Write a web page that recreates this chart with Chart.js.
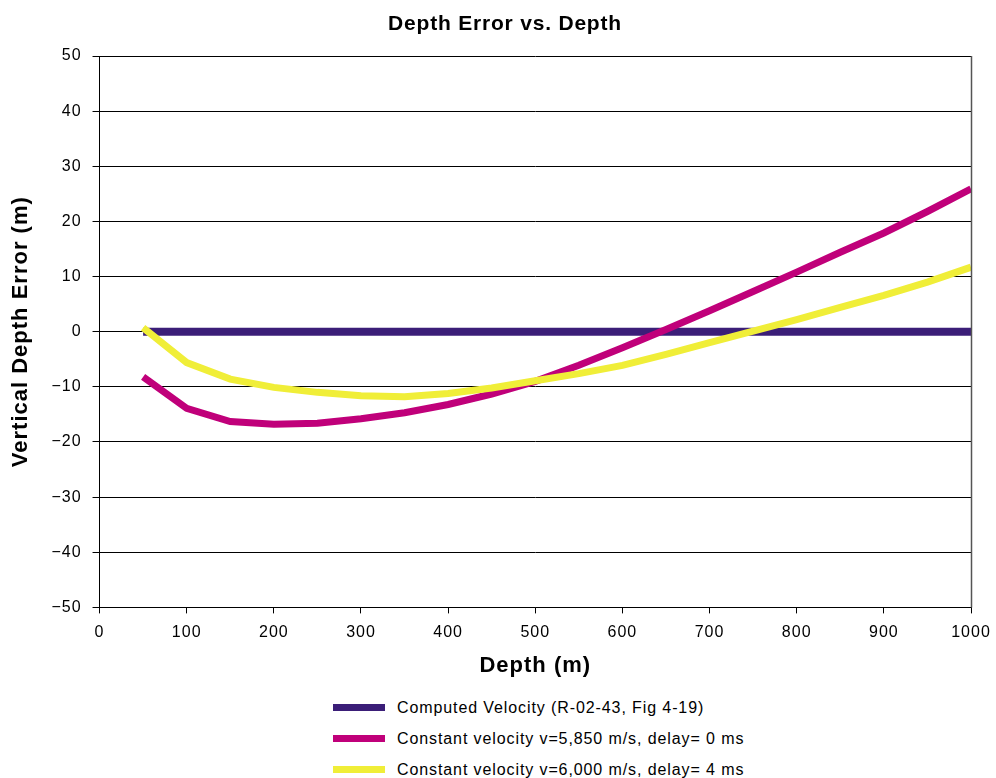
<!DOCTYPE html>
<html>
<head>
<meta charset="utf-8">
<script src="https://cdn.jsdelivr.net/npm/chart.js@4.4.1/dist/chart.umd.min.js"></script>
<style>
  html, body { margin: 0; padding: 0; background: #fff; }
  #wrap { position: relative; width: 996px; height: 778px; font-family: "Liberation Sans", Arial, sans-serif; }
  #chartBox { position: absolute; left: 0; top: 0; width: 996px; height: 690px; }
  #title { position: absolute; left: 255px; width: 500px; top: 10px; line-height: 25px; text-align: center;
           font-size: 21px; font-weight: bold; letter-spacing: 0.8px; color: #000; }
  #legend { position: absolute; left: 333px; top: 692px; }
  .item { display: flex; align-items: center; height: 31px; font-size: 16px; letter-spacing: 0.9px; color: #000; }
  .swatch { width: 52px; height: 7px; margin-right: 12px; }
</style>
</head>
<body>
<div id="wrap">
  <div id="chartBox"><canvas id="c"></canvas></div>
  <div id="title"></div>
  <div id="legend"></div>
</div>
<script>
const depths = [50,100,150,200,250,300,350,400,450,500,550,600,650,700,750,800,850,900,950,1000];
const computedVelocity = [0,0,0,0,0,0,0,0,0,0,0,0,0,0,0,0,0,0,0,0];
const constV5850 = [-8.2,-13.9,-16.3,-16.8,-16.6,-15.8,-14.7,-13.2,-11.3,-9.0,-6.1,-2.9,0.4,3.8,7.3,10.8,14.4,17.9,21.8,25.9];
const constV6000 = [0.7,-5.6,-8.6,-10.1,-11.0,-11.6,-11.8,-11.2,-10.2,-8.9,-7.6,-6.1,-4.1,-2.0,0.1,2.2,4.4,6.6,9.0,11.7];
const seriesNames = [
  "Computed Velocity (R-02-43, Fig 4-19)",
  "Constant velocity v=5,850 m/s, delay= 0 ms",
  "Constant velocity v=6,000 m/s, delay= 4 ms"
];
const chartTitle = "Depth Error vs. Depth";
const xTitle = "Depth (m)";
const yTitle = "Vertical Depth Error (m)";

const toPts = arr => arr.map((v, i) => ({x: depths[i], y: v}));
const FONT = "'Liberation Sans', Arial, sans-serif";

const spacing = {
  id: 'spacing',
  beforeUpdate(chart) { chart.ctx.letterSpacing = '1px'; },
  beforeLayout(chart) { chart.ctx.letterSpacing = '1px'; },
  beforeDraw(chart) { chart.ctx.letterSpacing = '1px'; }
};

const rightBorder = {
  id: 'rightBorder',
  afterDatasetsDraw(chart) {
    const {ctx, chartArea} = chart;
    ctx.save();
    ctx.strokeStyle = '#555';
    ctx.lineWidth = 1.5;
    ctx.beginPath();
    ctx.moveTo(chartArea.right + 0.5, chartArea.top);
    ctx.lineTo(chartArea.right + 0.5, chartArea.bottom);
    ctx.stroke();
    ctx.restore();
  }
};

document.getElementById('title').textContent = chartTitle;

const chart = new Chart(document.getElementById('c'), {
  type: 'line',
  data: {
    datasets: [
      { label: seriesNames[0], data: toPts(computedVelocity), borderColor: '#3B1E78', backgroundColor: '#3B1E78', borderWidth: 8, pointRadius: 0, order: 3 },
      { label: seriesNames[1], data: toPts(constV5850), borderColor: '#C0007A', backgroundColor: '#C0007A', borderWidth: 7, pointRadius: 0, order: 2 },
      { label: seriesNames[2], data: toPts(constV6000), borderColor: '#F0EE38', backgroundColor: '#F0EE38', borderWidth: 7, pointRadius: 0, order: 1 }
    ]
  },
  options: {
    responsive: true,
    maintainAspectRatio: false,
    animation: false,
    layout: { padding: { left: 5, right: 25, top: 56, bottom: 11 } },
    plugins: {
      legend: { display: false },
      tooltip: { enabled: false },
      title: { display: false }
    },
    scales: {
      x: {
        type: 'linear', min: 0, max: 1000,
        afterFit: s => { s.paddingRight = 0; s.paddingLeft = 0; },
        ticks: { stepSize: 100, color: '#000', font: { family: FONT, size: 16 }, padding: 10, maxRotation: 0,
          callback: v => String(v) },
        grid: { drawOnChartArea: false, color: '#000', tickLength: 6, tickColor: '#000' },
        border: { color: '#000', width: 1 },
        title: { display: true, text: xTitle, color: '#000', font: { family: FONT, size: 22, weight: 'bold' }, padding: { top: 0, bottom: 0 } }
      },
      y: {
        min: -50, max: 50,
        ticks: { stepSize: 10, color: '#000', font: { family: FONT, size: 16 }, padding: 11,
          callback: v => (v < 0 ? '\u2212' + Math.abs(v) : '' + v) },
        grid: { color: '#000', lineWidth: 1, tickLength: 7, tickColor: '#000' },
        border: { color: '#000', width: 1 },
        title: { display: true, text: yTitle, color: '#000', font: { family: FONT, size: 22, weight: 'bold' }, padding: { top: 3, bottom: 6 } }
      }
    }
  },
  plugins: [spacing, rightBorder]
});

const legend = document.getElementById('legend');
chart.data.datasets.forEach(ds => {
  const item = document.createElement('div');
  item.className = 'item';
  const sw = document.createElement('span');
  sw.className = 'swatch';
  sw.style.background = ds.borderColor;
  const tx = document.createElement('span');
  tx.textContent = ds.label;
  item.appendChild(sw);
  item.appendChild(tx);
  legend.appendChild(item);
});
</script>
</body>
</html>
